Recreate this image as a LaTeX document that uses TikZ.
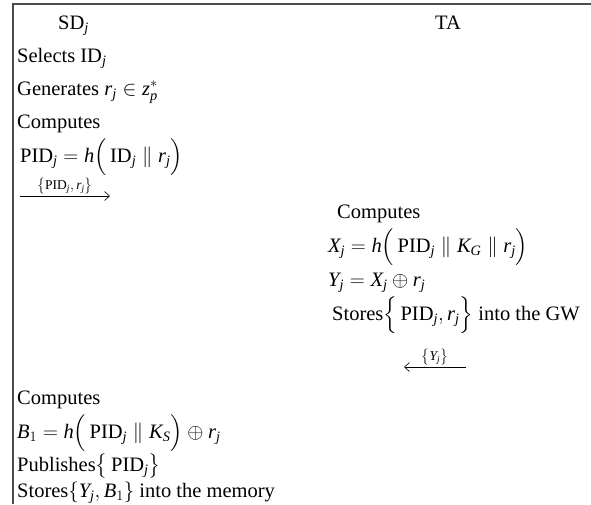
\documentclass[tikz,border=0pt]{standalone}
\usepackage{amsmath, amssymb}
\usepackage{fontspec}
\setmainfont{Liberation Serif}
\usepackage{tikz}
\usetikzlibrary{positioning, arrows.meta}
\newcommand{\jj}{\mathit{j}}
\newcommand{\mi}[1]{\mathit{#1}}

\begin{document}
\begin{tikzpicture}[>={Straight Barb[length=5pt, width=9pt]}, x=1pt, y=-1pt,
    font=\fontsize{20.5}{24}\selectfont,
    txt/.style={anchor=base west, inner sep=0pt},
    msg/.style={font=\fontsize{13.5}{15}\selectfont, inner sep=1pt, above}]
    \useasboundingbox (0,0) rectangle (591,504);

    % 1. Khung
    \draw[line width=1.3pt, black!70] (591,4) -- (13,4) -- (13,504);

    % 2. Hai ben
    \node[txt] (sd) at (58,29) {SD$_{\jj}$};
    \node[txt] (ta) at (435,29) {TA};

    % 3. SD_j dang ky
    \node[txt] (sel) at (17,62) {Selects ID$_{\jj}$};
    \node[txt] (gen) at (17,95) {Generates $\mi{r}_{\jj}\in \mi{z}_{\mi{p}}^{*}$};
    \node[txt] (cmpa) at (17,128) {Computes};
    \node[txt] (pid) at (20,162)
        {$\mathrm{PID}_{\jj} = \mi{h}\Big(\,\mathrm{ID}_{\jj}\parallel \mi{r}_{\jj}\Big)$};
    \coordinate (ms) at (20,196);
    \coordinate (me) at (110,196);
    \draw[->, semithick] (ms) -- (me)
        node[midway, msg] (mlbl) {$\big\{\mathrm{PID}_{\jj},\mi{r}_{\jj}\big\}$};

    % 4. TA tinh toan
    \node[txt] (cmpb) at (337,218) {Computes};
    \node[txt] (xj) at (328,252)
        {$\mi{X}_{\jj} = \mi{h}\Big(\,\mathrm{PID}_{\jj}\parallel \mi{K}_{\mi{G}}\parallel \mi{r}_{\jj}\Big)$};
    \node[txt] (yj) at (328,286) {$\mi{Y}_{\jj} = \mi{X}_{\jj}\oplus \mi{r}_{\jj}$};
    \node[txt] (stgw) at (332,320)
        {Stores$\Big\{\,\mathrm{PID}_{\jj},\mi{r}_{\jj}\Big\}$ into the GW};
    \coordinate (rs) at (466,367);
    \coordinate (re) at (404,367);
    \draw[->, semithick] (rs) -- (re)
        node[midway, msg] (rlbl) {$\big\{\mi{Y}_{\jj}\big\}$};

    % 5. SD_j luu tru
    \node[txt] (cmpc) at (17,404) {Computes};
    \node[txt] (bj) at (17,438)
        {$\mi{B}_{1} = \mi{h}\Big(\,\mathrm{PID}_{\jj}\parallel \mi{K}_{\mi{S}}\Big)\oplus \mi{r}_{\jj}$};
    \node[txt] (pub) at (17,471) {Publishes$\big\{\,\mathrm{PID}_{\jj}\big\}$};
    \node[txt] (stm) at (17,497) {Stores$\{\mi{Y}_{\jj},\mi{B}_{1}\}$ into the memory};
\end{tikzpicture}
\end{document}
